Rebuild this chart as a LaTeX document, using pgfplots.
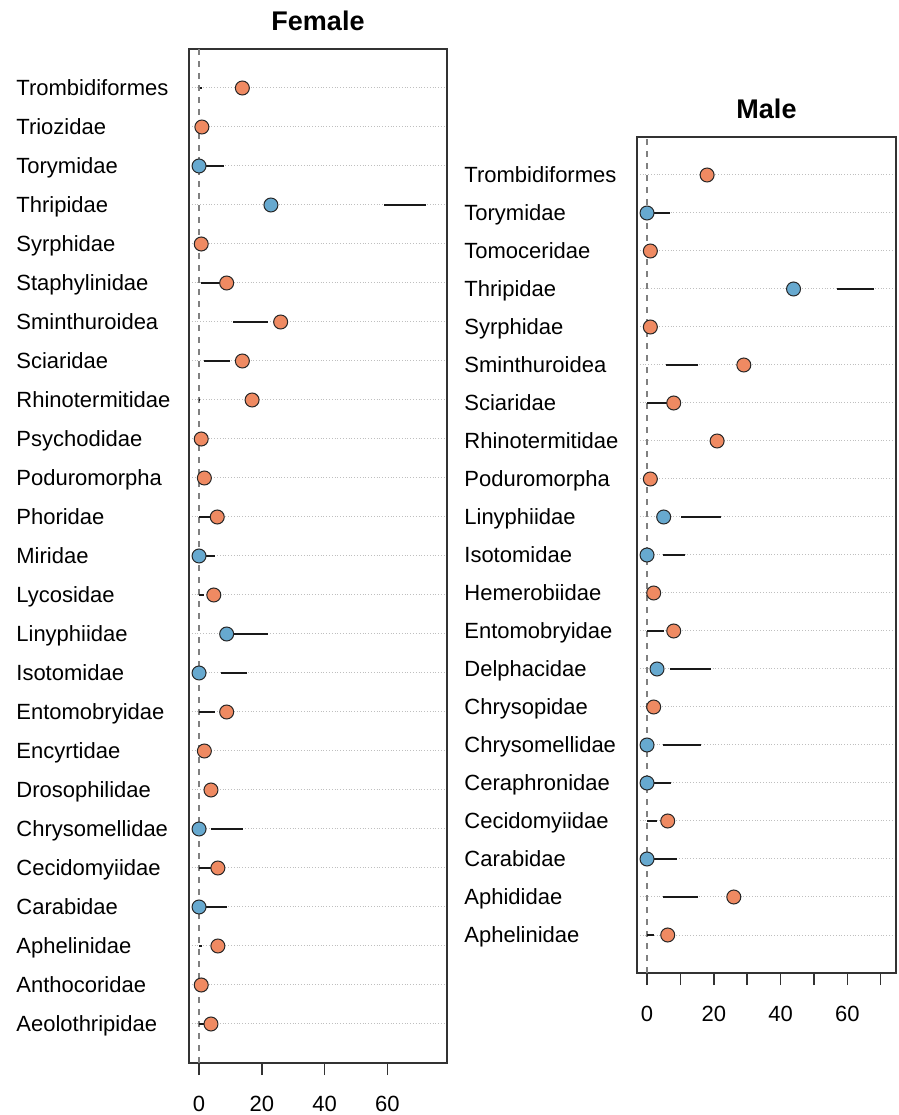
\documentclass[border=0pt]{standalone}
\usepackage{fontspec}
\setmainfont{Liberation Sans}
\usepackage{pgfplots}
\usepackage{pgfplotstable}
\pgfplotsset{compat=1.18}
\definecolor{orangeC}{HTML}{EF8A62}
\definecolor{blueC}{HTML}{67A9CF}
\definecolor{frameC}{HTML}{333333}

% c: 0 = orange, 1 = blue
\pgfplotstableread{
name pos est lo hi c
Aeolothripidae 1 3.8 0 2.5 0
Anthocoridae 2 0.7 0.7 0.7 0
Aphelinidae 3 6.0 0 0.9 0
Carabidae 4 0 0 9.0 1
Cecidomyiidae 5 6.0 0 5.0 0
Chrysomellidae 6 0 3.7 14.1 1
Drosophilidae 7 3.8 3.8 3.8 0
Encyrtidae 8 1.7 1.7 1.7 0
Entomobryidae 9 8.8 0 5.0 0
Isotomidae 10 0 6.9 15.2 1
Linyphiidae 11 8.8 9.0 22.1 1
Lycosidae 12 4.7 0 1.6 0
Miridae 13 0 0 5.0 1
Phoridae 14 5.8 0 4.0 0
Poduromorpha 15 1.7 1.7 1.7 0
Psychodidae 16 0.7 0.7 0.7 0
Rhinotermitidae 17 16.9 0 0.3 0
Sciaridae 18 13.8 1.6 9.9 0
Sminthuroidea 19 26.0 10.9 22.1 0
Staphylinidae 20 8.8 0.6 8.0 0
Syrphidae 21 0.7 0.7 0.7 0
Thripidae 22 22.9 59.0 72.4 1
Torymidae 23 0 0 8.0 1
Triozidae 24 0.9 0.9 0.9 0
Trombidiformes 25 13.8 0.2 0.8 0
}\femdata

\pgfplotstableread{
name pos est lo hi c
Aphelinidae 1 6.2 0 2.2 0
Aphididae 2 26.0 4.8 15.3 0
Carabidae 3 0 0 9.0 1
Cecidomyiidae 4 6.2 0 3.0 0
Ceraphronidae 5 0 0 7.2 1
Chrysomellidae 6 0 4.8 16.3 1
Chrysopidae 7 2.0 2.0 2.0 0
Delphacidae 8 3.0 6.8 19.2 1
Entomobryidae 9 8.0 0 5.0 0
Hemerobiidae 10 2.0 2.0 2.0 0
Isotomidae 11 0 4.8 11.3 1
Linyphiidae 12 5.0 10.2 22.2 1
Poduromorpha 13 1.0 1.0 1.0 0
Rhinotermitidae 14 21.0 21.0 21.0 0
Sciaridae 15 8.0 0 6.5 0
Sminthuroidea 16 29.0 5.8 15.2 0
Syrphidae 17 1.0 1.0 1.0 0
Thripidae 18 43.9 56.9 68.1 1
Tomoceridae 19 1.0 1.0 1.0 0
Torymidae 20 0 0 7.0 1
Trombidiformes 21 18.0 18.0 18.0 0
}\maldata

\pgfplotsset{
  dotpanel/.style={
    scale only axis,
    axis line style={frameC, line width=0.75pt},
    ymajorgrids,
    grid style={densely dotted, gray!50, line width=0.5pt},
    ytick style={draw=none},
    xtick style={frameC, line width=0.75pt},
    tick align=outside,
    major tick length=6pt,
    xtick pos=bottom,
    ytick pos=left,
    yticklabel style={anchor=base west, inner sep=0pt, xshift=-80.5pt, yshift=-3.9pt, font=\fontsize{11}{13}\selectfont},
    xticklabel style={anchor=base, inner sep=0pt, yshift=-18.4pt, font=\fontsize{11}{13}\selectfont},
    /pgf/number format/assume math mode=true,
    clip=false,
    unbounded coords=discard,
  },
  ptstyle/.style={only marks, mark=*, mark size=3.5pt,
    mark options={fill=#1, draw=black!85, line width=0.5pt}},
}
\tikzset{ttl/.style={anchor=base, inner sep=0pt, yshift=9.2pt, font=\bfseries\fontsize{13.5}{16}\selectfont}}

\begin{document}
\begin{tikzpicture}
\useasboundingbox (0,0) rectangle (449.5pt,557.5pt);

% Female panel
\begin{axis}[dotpanel,
  at={(94.5pt,26pt)}, anchor=south west,
  width=129pt, height=507pt,
  xmin=-3.2, xmax=79, ymin=0, ymax=26,
  xtick={0,20,40,60},
  ytick={1,...,25},
  yticklabels from table={\femdata}{name},
]
\addplot[gray, dashed, line width=0.6pt] coordinates {(0,0) (0,26)};
\addplot[black!90, line width=0.8pt, quiver={u=\thisrow{hi}-\thisrow{lo}, v=0}, -] table[x=lo, y=pos] {\femdata};
\addplot[ptstyle=orangeC, x filter/.expression={\thisrow{c}==0 ? x : nan}] table[x=est, y=pos] {\femdata};
\addplot[ptstyle=blueC, x filter/.expression={\thisrow{c}==1 ? x : nan}] table[x=est, y=pos] {\femdata};
\node[ttl] at (rel axis cs:0.5,1) {Female};
\end{axis}

% Male panel
\begin{axis}[dotpanel,
  at={(318.5pt,71pt)}, anchor=south west,
  width=129.5pt, height=418pt,
  xmin=-3, xmax=74.6, ymin=0, ymax=22,
  xtick={0,10,...,70},
  xticklabels={0,,20,,40,,60,},
  ytick={1,...,21},
  yticklabels from table={\maldata}{name},
]
\addplot[gray, dashed, line width=0.6pt] coordinates {(0,0) (0,22)};
\addplot[black!90, line width=0.8pt, quiver={u=\thisrow{hi}-\thisrow{lo}, v=0}, -] table[x=lo, y=pos] {\maldata};
\addplot[ptstyle=orangeC, x filter/.expression={\thisrow{c}==0 ? x : nan}] table[x=est, y=pos] {\maldata};
\addplot[ptstyle=blueC, x filter/.expression={\thisrow{c}==1 ? x : nan}] table[x=est, y=pos] {\maldata};
\node[ttl] at (rel axis cs:0.5,1) {Male};
\end{axis}
\end{tikzpicture}
\end{document}
